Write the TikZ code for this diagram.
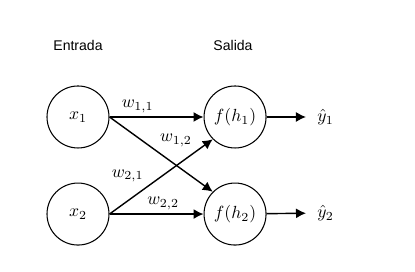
\documentclass[tikz,border=0pt]{standalone}
\usepackage{amsmath}
\usepackage{fontspec}
\newfontfamily\titlefont{Liberation Sans}
\usetikzlibrary{arrows.meta,positioning}

\begin{document}
\begin{tikzpicture}[>={Latex[length=2mm,width=2mm]},
  neuron/.style={draw,circle,semithick,minimum size=12.4mm,inner sep=0pt},
  title/.style={font=\titlefont\fontsize{8}{10}\selectfont},
  wlabel/.style={inner sep=2pt},
  outlabel/.style={anchor=west,inner xsep=2.2mm},
  link/.style={->,thick}]
  \useasboundingbox (0,0) rectangle (8.3,5.44);
  \node[neuron] (x1) at (1.56,3.10){$x_1$};
  \node[neuron,below=6.8mm of x1] (x2){$x_2$};
  \node[neuron,right=18.8mm of x1] (h1){$f(h_1)$};
  \node[neuron,right=18.8mm of x2] (h2){$f(h_2)$};
  \node[title] (in) at (1.56,4.54){Entrada};
  \node[title] (out) at (4.66,4.54){Salida};
  \node[outlabel] (y1) at (6.12,3.10){$\hat{y}_1$};
  \node[outlabel] (y2) at (6.12,1.18){$\hat{y}_2$};
  % pesos
  \draw[link](x1)--node[wlabel,pos=0.3,above]{$w_{1,1}$}(h1);
  \draw[link](x1.east)--node[wlabel,pos=0.45,above right]{$w_{1,2}$}(h2.135);
  \draw[link](x2.east)--node[wlabel,pos=0.37,above left]{$w_{2,1}$}(h1.225);
  \draw[link](x2)--node[wlabel,pos=0.57,above]{$w_{2,2}$}(h2);
  % salidas
  \draw[link](h1)--(y1);\draw[link](h2)--(y2);
\end{tikzpicture}
\end{document}
